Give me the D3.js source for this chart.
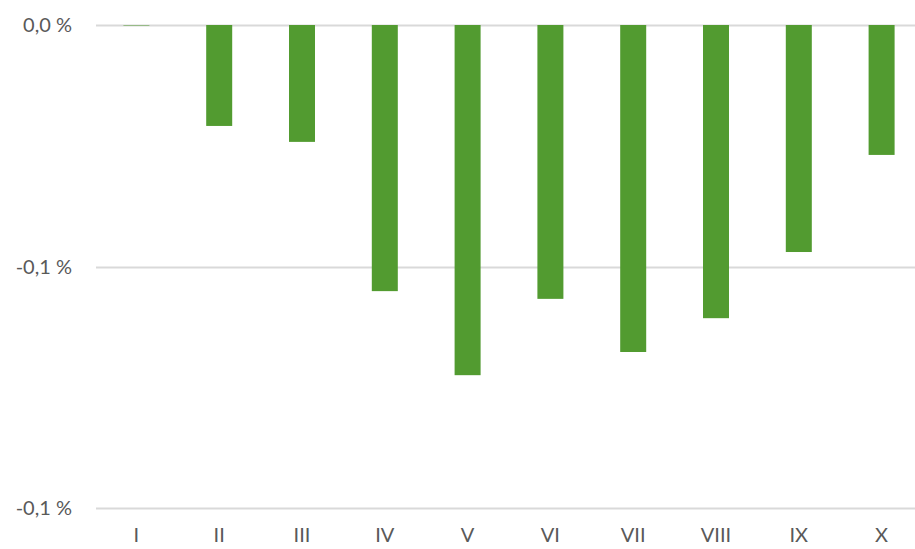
<!DOCTYPE html>
<html>
<head>
<meta charset="utf-8">
<style>
  body { margin: 0; background: #fff; }
  text { font-family: "Lato", "Noto Sans", sans-serif; }
</style>
<script src="https://cdn.jsdelivr.net/npm/d3@7"></script>
</head>
<body>
<svg width="915" height="549"></svg>
<script>
var categories = ["I", "II", "III", "IV", "V", "VI", "VII", "VIII", "IX", "X"];
var values = [-0.0001, -0.0209, -0.0242, -0.0551, -0.0725, -0.0567, -0.0677, -0.0607, -0.0470, -0.0269];
var tickValues = [0, -0.05, -0.1];
var tickLabels = ["0,0 %", "-0,1 %", "-0,1 %"];

var svg = d3.select("svg"),
    margin = {top: 25, right: 0, bottom: 41, left: 96},
    width = +svg.attr("width") - margin.left - margin.right,
    height = +svg.attr("height") - margin.top - margin.bottom,
    g = svg.append("g").attr("transform", "translate(" + margin.left + "," + margin.top + ")");

var x = d3.scaleBand().domain(categories).range([-1, 827]).paddingInner(0.686).paddingOuter(0.343);
var y = d3.scaleLinear().domain([-0.1, 0]).range([height, 0]);

// gridlines
g.append("g")
  .selectAll("line")
  .data(tickValues)
  .enter().append("line")
    .attr("x1", 0).attr("x2", width)
    .attr("y1", function(d) { return Math.round(y(d)) + 0.5; })
    .attr("y2", function(d) { return Math.round(y(d)) + 0.5; })
    .attr("stroke", "#d9d9d9")
    .attr("stroke-width", 2);

// y labels
g.append("g")
  .selectAll("text")
  .data(tickValues)
  .enter().append("text")
    .attr("x", -24)
    .attr("y", function(d) { return y(d); })
    .attr("dy", "0.35em")
    .attr("text-anchor", "end")
    .attr("font-size", 20)
    .attr("fill", "#595959")
    .text(function(d, i) { return tickLabels[i]; });

// bars
g.append("g")
  .selectAll("rect")
  .data(values)
  .enter().append("rect")
    .attr("x", function(d, i) { return x(categories[i]); })
    .attr("y", y(0))
    .attr("width", x.bandwidth())
    .attr("height", function(d) { return y(d) - y(0); })
    .attr("fill", "#529b30");

// x labels
g.append("g")
  .selectAll("text")
  .data(categories)
  .enter().append("text")
    .attr("x", function(d) { return x(d) + x.bandwidth() / 2; })
    .attr("y", height + 27)
    .attr("dy", "0.35em")
    .attr("text-anchor", "middle")
    .attr("font-size", 20)
    .attr("fill", "#595959")
    .text(function(d) { return d; });
</script>
</body>
</html>
